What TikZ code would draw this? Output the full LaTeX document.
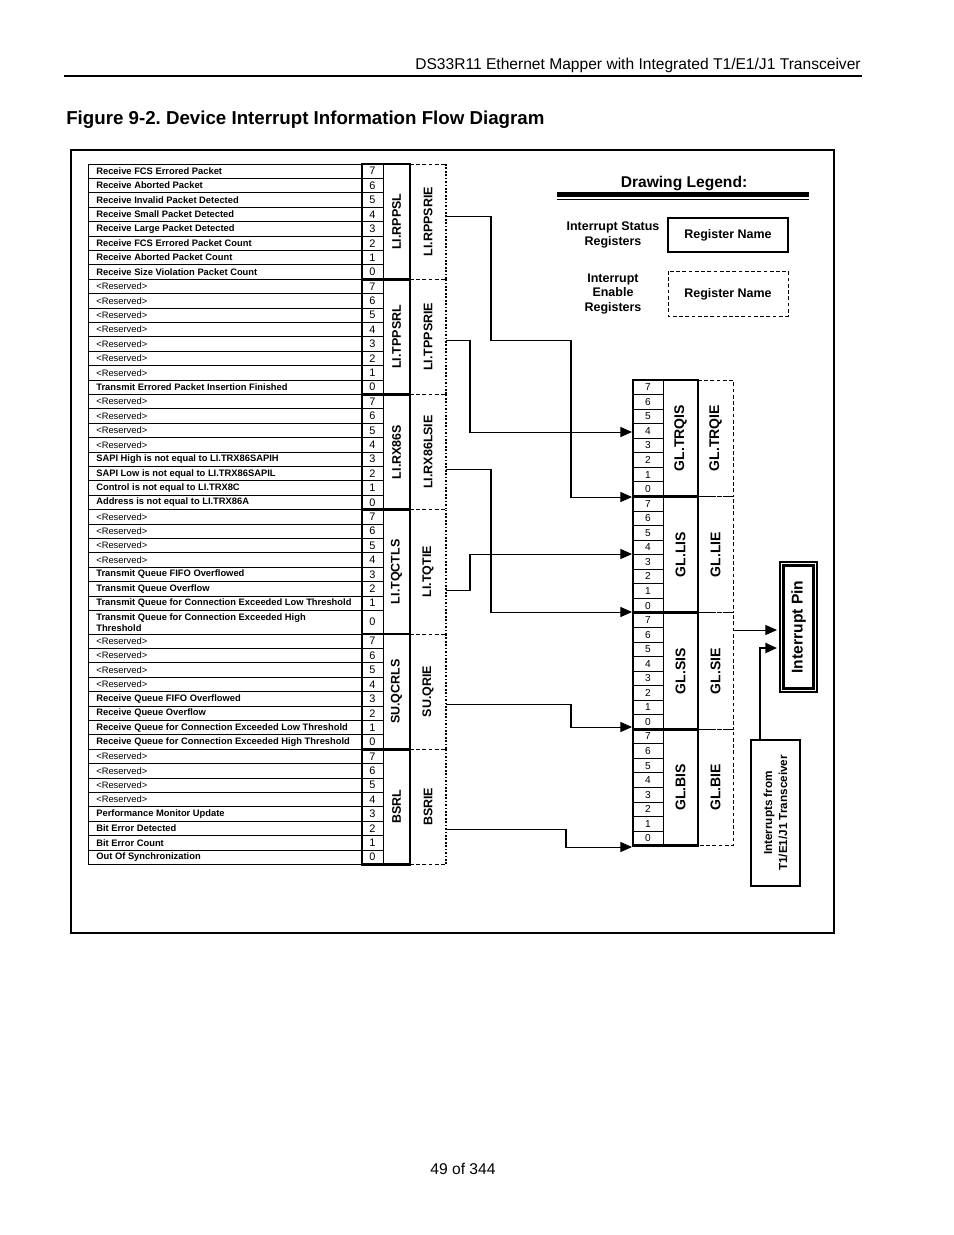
\documentclass[tikz,border=0pt]{standalone}
\usepackage{fontspec}
\setmainfont{Liberation Sans}
\usetikzlibrary{arrows.meta}
\frenchspacing

\begin{document}
\begin{tikzpicture}[x=0.6415pt,y=-0.6415pt,
  every node/.style={inner sep=0pt},
  cell/.style={line width=0.5pt},
  stat/.style={line width=1.8pt},
  enab/.style={line width=0.5pt,dash pattern=on 2.4pt off 1.6pt},
  enabdots/.style={line width=1.1pt,dash pattern=on 1.1pt off 1.1pt},
  flow/.style={line width=0.65pt,-{Triangle[length=7.5pt,width=6.5pt]}},
  txtb/.style={font=\fontsize{6}{7}\selectfont\bfseries,anchor=west,align=left},
  txtr/.style={font=\fontsize{6}{7}\selectfont,anchor=west,align=left},
  bitl/.style={font=\fontsize{7}{7}\selectfont},
  bitr/.style={font=\fontsize{6.5}{6.5}\selectfont},
  lireg/.style={font=\fontsize{8}{8}\selectfont\bfseries,rotate=90},
  glreg/.style={font=\fontsize{9}{9}\selectfont\bfseries,rotate=90},
  legtxt/.style={font=\fontsize{8}{9.5}\selectfont\bfseries,align=center},
]
\useasboundingbox (0,0) rectangle (954,1235);

% page header, title and footer
\node[font=\fontsize{10}{12}\selectfont,anchor=east] (head) at (861,65) {DS33R11 Ethernet Mapper with Integrated T1/E1/J1 Transceiver};
\draw[line width=0.7pt] (64,76) -- (862,76);
\node[font=\fontsize{12}{14}\selectfont\bfseries,anchor=west] (title) at (66,120) {Figure 9-2. Device Interrupt Information Flow Diagram};
\node[font=\fontsize{10}{12}\selectfont] (foot) at (463,1169) {49 of 344};

% frame
\draw[line width=0.9pt] (71,150) rectangle (834,933);

% left table: one row per bit
\foreach \s/\t [count=\n from 0] in {
  b/Receive FCS Errored Packet, b/Receive Aborted Packet, b/Receive Invalid Packet Detected,
  b/Receive Small Packet Detected, b/Receive Large Packet Detected, b/Receive FCS Errored Packet Count,
  b/Receive Aborted Packet Count, b/Receive Size Violation Packet Count,
  r/<Reserved>, r/<Reserved>, r/<Reserved>, r/<Reserved>, r/<Reserved>, r/<Reserved>, r/<Reserved>,
  b/Transmit Errored Packet Insertion Finished,
  r/<Reserved>, r/<Reserved>, r/<Reserved>, r/<Reserved>,
  b/SAPI High  is not  equal to  LI.TRX86SAPIH, b/SAPI Low is not equal to LI.TRX86SAPIL,
  b/Control is not equal to LI.TRX8C, b/Address is not equal to LI.TRX86A,
  r/<Reserved>, r/<Reserved>, r/<Reserved>, r/<Reserved>,
  b/Transmit Queue FIFO Overflowed, b/Transmit Queue Overflow,
  b/Transmit Queue for Connection Exceeded Low Threshold,
  b/{Transmit Queue for Connection Exceeded High\\Threshold},
  r/<Reserved>, r/<Reserved>, r/<Reserved>, r/<Reserved>,
  b/Receive Queue FIFO Overflowed, b/Receive Queue Overflow,
  b/Receive Queue for Connection Exceeded Low Threshold,
  b/Receive Queue for Connection Exceeded High Threshold,
  r/<Reserved>, r/<Reserved>, r/<Reserved>, r/<Reserved>,
  b/Performance Monitor Update, b/Bit Error Detected, b/Bit Error Count, b/Out Of Synchronization}{
  \pgfmathsetmacro{\ya}{164+14.4*\n+(\n>31)*9.2}
  \pgfmathsetmacro{\yb}{\ya+14.4+(\n==31)*9.2}
  \pgfmathtruncatemacro{\bit}{7-mod(\n,8)}
  \draw[cell] (88,\ya) rectangle (383,\yb);
  \node[txt\s] (row\n) at (96,{(\ya+\yb)/2}) {\t};
  \node[bitl] (bit\n) at (372.5,{(\ya+\yb)/2}) {\bit};
}

% left status / enable registers
\foreach \ytop/\ybot/\sname/\ename/\ysrc [count=\r] in {
  164/279.2/LI.RPPSL/LI.RPPSRIE/216, 279.2/394.4/LI.TPPSRL/LI.TPPSRIE/340,
  394.4/509.6/LI.RX86S/LI.RX86LSIE/469, 509.6/634/LI.TQCTLS/LI.TQTIE/590,
  634/749.2/SU.QCRLS/SU.QRIE/704, 749.2/864.4/BSRL/BSRIE/829}{
  \draw[cell] (383,\ytop) -- (383,\ybot);
  \draw[stat] (362,\ytop) rectangle (410,\ybot);
  \draw[enab] (410,\ytop) -- (446,\ytop) (410,\ybot) -- (446,\ybot);
  \draw[enabdots] (446,\ytop) -- (446,\ybot);
  \node[lireg] (lis\r) at (396.5,{(\ytop+\ybot)/2}) {\sname};
  \node[lireg] (lie\r) at (428,{(\ytop+\ybot)/2}) {\ename};
  \coordinate (out\r) at (446,\ysrc);
}

% global registers
\foreach \n in {0,...,31}{
  \pgfmathsetmacro{\ya}{380+14.55*\n}
  \pgfmathtruncatemacro{\bit}{7-mod(\n,8)}
  \draw[cell] (633,\ya) rectangle (663,\ya+14.55);
  \node[bitr] (gbit\n) at (648,\ya+7.275) {\bit};
}
\foreach \ytop/\sname/\ename [count=\r] in {
  380/GL.TRQIS/GL.TRQIE, 496.4/GL.LIS/GL.LIE, 612.8/GL.SIS/GL.SIE, 729.2/GL.BIS/GL.BIE}{
  \draw[stat] (633,\ytop) rectangle (698,\ytop+116.4);
  \draw[enab] (698,\ytop) -- (733,\ytop) -- (733,\ytop+116.4) -- (698,\ytop+116.4);
  \node[glreg] (gs\r) at (680.5,\ytop+58.2) {\sname};
  \node[glreg] (ge\r) at (715.5,\ytop+58.2) {\ename};
}

\coordinate (in1) at (632,432);
\coordinate (in2) at (632,497);
\coordinate (in3) at (632,554);
\coordinate (in4) at (632,612);
\coordinate (in5) at (632,727);
\coordinate (in6) at (632,847);

% flow from enables to global status bits
\draw[flow] (out1) -- ++(45,0) |- (571,340) |- (in2);
\draw[flow] (out2) -- ++(24,0) |- (in1);
\draw[flow] (out3) -- ++(45,0) |- (in4);
\draw[flow] (out4) -- ++(24,0) |- (in3);
\draw[flow] (out5) -- ++(125,0) |- (in5);
\draw[flow] (out6) -- ++(120,0) |- (in6);

% interrupt pin
\draw[line width=0.7pt] (780,562) rectangle (817,692);
\draw[line width=1.4pt] (783.5,565.5) rectangle (813.5,688.5);
\node[font=\fontsize{10}{10}\selectfont\bfseries,rotate=90] (pin) at (798.5,627) {Interrupt Pin};
\coordinate (pin1) at (777,630);
\coordinate (pin2) at (777,648);

% transceiver
\draw[line width=1.4pt] (751,740) rectangle (800,886);
\node[font=\fontsize{7.5}{9.6}\selectfont\bfseries,rotate=90,align=center] (xcvrtxt) at (775.5,813) {Interrupts from\\T1/E1/J1 Transceiver};
\coordinate (xcvr) at (760,740);
\coordinate (sieout) at (733,630);

\draw[flow] (sieout) -- (pin1);
\draw[flow,line width=1.2pt] (xcvr) |- (pin2);

% legend
\node[font=\fontsize{10}{12}\selectfont\bfseries] (leg) at (684,183) {Drawing Legend:};
\draw[line width=3.2pt] (557,194.5) -- (809,194.5);
\draw[line width=0.7pt] (557,199.5) -- (809,199.5);
\node[legtxt] (legs) at (613,235) {Interrupt Status\\Registers};
\draw[line width=1.4pt] (668,218) rectangle (788,252);
\node[legtxt] (legsbox) at (728,235) {Register Name};
\node[legtxt,font=\fontsize{8}{9.3}\selectfont\bfseries] (lege) at (613,294) {Interrupt\\Enable\\Registers};
\draw[enab] (668,271) rectangle (788,316);
\node[legtxt] (legebox) at (728,294) {Register Name};
\end{tikzpicture}
\end{document}
